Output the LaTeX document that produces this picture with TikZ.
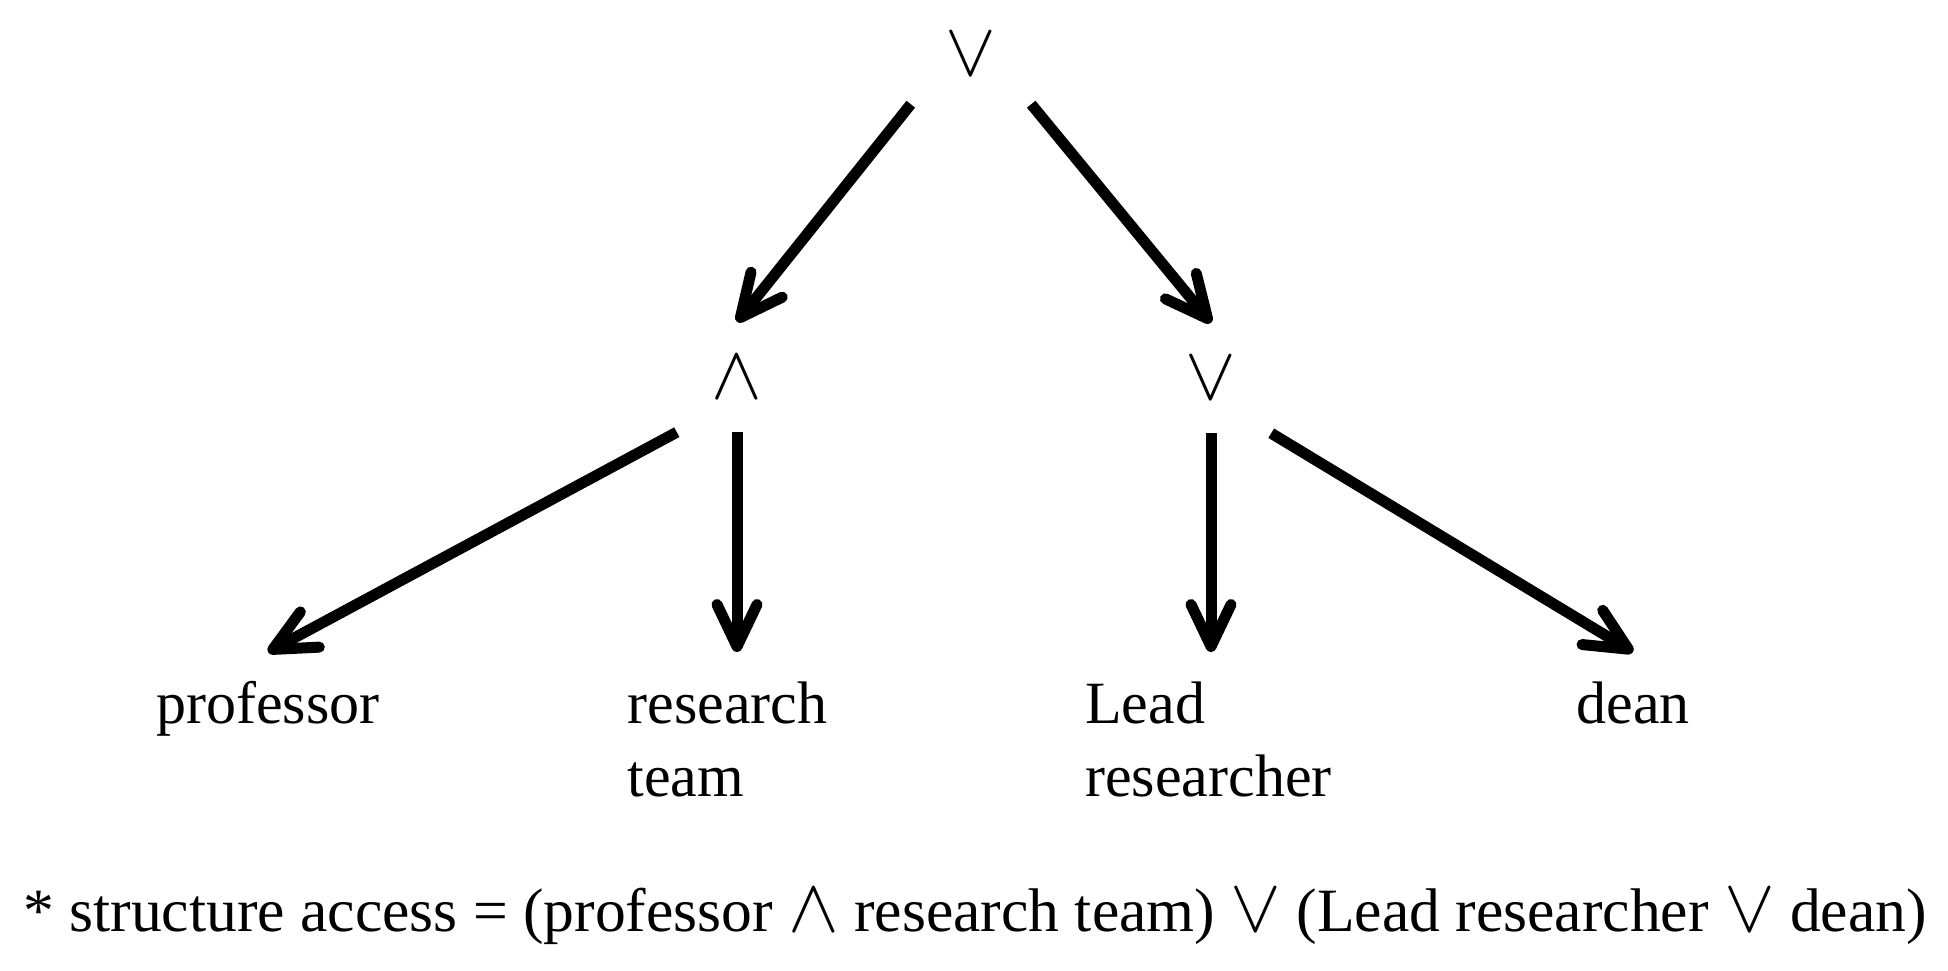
\documentclass[tikz,border=0pt]{standalone}
\usepackage{fontspec}
\setmainfont{Liberation Serif}
\usetikzlibrary{arrows.meta}
\newcommand\bigsym[1]{\scalebox{7.6}{\fontsize{10}{12}\selectfont$#1$}}
\begin{document}
\begin{tikzpicture}[x=1pt,y=-1pt,
  sym/.style={inner sep=0pt, minimum width=120pt},
  lbl/.style={anchor=north, inner sep=0pt, align=left, font=\fontsize{60}{73}\selectfont},
  arr/.style={line width=11pt, -{Straight Barb[length=42pt,width=40pt,round]}},
]
\useasboundingbox (0,0) rectangle (1948,970);
\node[sym, minimum height=100pt] (top) at (971,54) {\bigsym{\vee}};
\node[sym, minimum height=110pt] (and) at (737,377) {\bigsym{\wedge}};
\node[sym, minimum height=110pt] (or) at (1211,378) {\bigsym{\vee}};
\node[lbl] (prof) at (268,652) {\rule{0pt}{71pt}professor};
\node[lbl] (rt) at (727.5,652) {\rule{0pt}{71pt}research\\team};
\node[lbl] (lr) at (1208.5,652) {\rule{0pt}{71pt}Lead\\researcher};
\node[lbl] (dean) at (1633,652) {\rule{0pt}{71pt}dean};
\node[anchor=base west, inner sep=0pt, font=\fontsize{61.6}{73}\selectfont] (formula) at (23,931)
  {* structure access = (professor \bigsym{\wedge} research team) \bigsym{\vee} (Lead researcher \bigsym{\vee} dean)};
\draw[arr] (top.south west) -- (and.north);
\draw[arr] (top.south east) -- (or.north);
\draw[arr] (and.south west) -- (prof.north);
\draw[arr] (and.south) -- (and.south |- rt.north);
\draw[arr] (or.south) -- (or.south |- lr.north);
\draw[arr] (or.south east) -- (dean.north);
\end{tikzpicture}
\end{document}
